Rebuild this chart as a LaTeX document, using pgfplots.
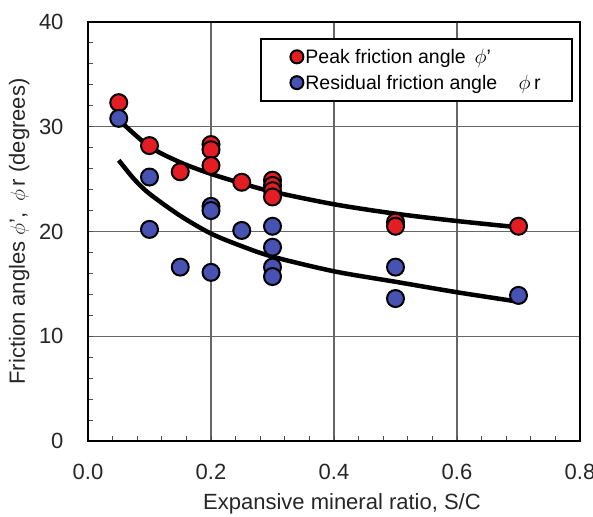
\documentclass[border=0pt]{standalone}
\usepackage{pgfplots}
\pgfplotsset{compat=1.18}
\usepackage{fontspec}
\setmainfont{Liberation Sans}
\definecolor{pkred}{RGB}{228,28,36}
\definecolor{rsblue}{RGB}{72,82,178}
\begin{document}
\begin{tikzpicture}
\begin{axis}[
  scale only axis, width=492bp, height=419bp,
  xmin=0, xmax=0.8, ymin=0, ymax=40,
  xtick={0,0.2,0.4,0.6,0.8}, ytick={0,10,20,30,40},
  minor x tick num=4, minor y tick num=4,
  xtick pos=left, ytick pos=left, tick align=inside,
  major tick length=5bp, minor tick length=5bp,
  grid=major, major grid style={line width=1.1bp, black!60},
  axis line style={line width=2.5bp},
  every tick/.style={line width=1bp, black!70},
  /pgf/number format/assume math mode=true,
  xticklabel style={/pgf/number format/fixed, /pgf/number format/fixed zerofill, /pgf/number format/precision=1, yshift=-20bp},
  tick label style={font=\fontsize{22bp}{26bp}\selectfont, black!85},
  yticklabel style={xshift=-21bp},
  label style={font=\fontsize{22bp}{26bp}\selectfont, black!85},
  xlabel={Expansive mineral ratio, S/C},
  xlabel style={at={(axis description cs:0.5,0)}, anchor=base, yshift=-68bp, xshift=8bp},
  ylabel={Friction angles \(\phi\)',\enspace\(\phi\,\)r (degrees)},
  ylabel style={at={(axis description cs:-0.161,0.5)}, anchor=north, inner sep=0pt},
  legend style={at={(rel axis cs:0.985,0.962)}, anchor=north east, draw=black, line width=2bp,
    font=\fontsize{19.5bp}{23bp}\selectfont, inner xsep=29bp, inner ysep=8bp,
    row sep=6bp, cells={anchor=west}},
  legend cell align=left,
]
\addplot[only marks, mark=*, mark size=8.5bp, mark options={fill=pkred, draw=black, line width=2bp},
  legend image post style={mark size=6.5bp}] coordinates {
  (0.05,32.3) (0.1,28.2) (0.15,25.7) (0.2,28.3) (0.2,27.8) (0.2,26.3)
  (0.25,24.7) (0.3,24.9) (0.3,24.4) (0.3,23.9) (0.3,23.3) (0.5,20.9) (0.5,20.5) (0.7,20.5)
};
\addlegendentry{Peak friction angle\hspace{0.45em}\(\phi\)'}
\addplot[only marks, mark=*, mark size=8.5bp, mark options={fill=rsblue, draw=black, line width=2bp},
  legend image post style={mark size=6.5bp}] coordinates {
  (0.05,30.8) (0.1,25.2) (0.1,20.2) (0.15,16.6) (0.2,22.4) (0.2,22.0) (0.2,16.1)
  (0.25,20.1) (0.3,20.5) (0.3,18.5) (0.3,16.6) (0.3,15.7) (0.5,16.6) (0.5,13.6) (0.7,13.9)
};
\addlegendentry{Residual friction angle\hspace{1.1em}\(\phi\,\)r}
\addplot[forget plot, smooth, black, line width=4.5bp] coordinates {
  (0.053,30.5) (0.1,28.1) (0.15,26.6) (0.2,25.5) (0.25,24.6) (0.3,23.8) (0.4,22.6) (0.5,21.7) (0.6,21.0) (0.7,20.4)
};
\addplot[forget plot, smooth, black, line width=4.5bp] coordinates {
  (0.05,26.8) (0.075,25.0) (0.1,23.6) (0.15,21.5) (0.2,19.8) (0.25,18.6) (0.3,17.6) (0.4,16.2) (0.5,15.2) (0.6,14.2) (0.7,13.3)
};
\coordinate (SW) at (rel axis cs:0,0);
\coordinate (NE) at (rel axis cs:1,1);
\end{axis}
\pgfresetboundingbox
\path ([shift={(-88bp,-75bp)}]SW) rectangle ([shift={(13bp,22bp)}]NE);
\end{tikzpicture}
\end{document}
